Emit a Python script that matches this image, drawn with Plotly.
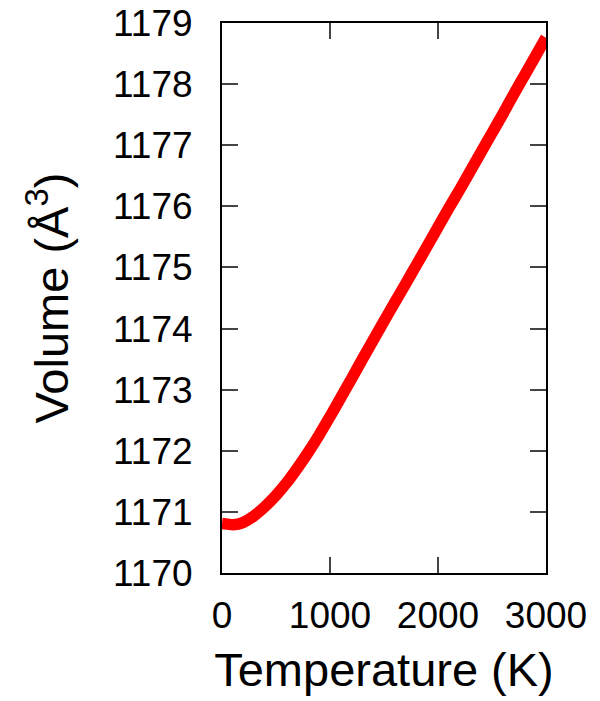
import plotly.graph_objects as go

temperature = [0, 50, 100, 150, 200, 300, 400, 500, 600, 700, 800, 900, 1000,
               1100, 1200, 1300, 1400, 1500, 1600, 1700, 1800, 1900, 2000,
               2100, 2200, 2300, 2400, 2500, 2600, 2700, 2800, 2900, 3000]
volume = [1170.81, 1170.80, 1170.79, 1170.80, 1170.83, 1170.94, 1171.09, 1171.27,
          1171.48, 1171.72, 1171.98, 1172.26, 1172.56, 1172.87, 1173.18, 1173.50,
          1173.81, 1174.12, 1174.43, 1174.73, 1175.04, 1175.35, 1175.66, 1175.97,
          1176.27, 1176.58, 1176.89, 1177.20, 1177.51, 1177.83, 1178.14, 1178.45,
          1178.76]
x_ticks = [0, 1000, 2000, 3000]
y_ticks = [1170, 1171, 1172, 1173, 1174, 1175, 1176, 1177, 1178, 1179]

FONT = "Liberation Sans, Arial, Helvetica, sans-serif"

fig = go.Figure()
fig.add_trace(go.Scatter(
    x=temperature, y=volume, mode="lines",
    line=dict(color="#ff0000", width=11.5, shape="spline"),
    showlegend=False, hoverinfo="skip",
))

fig.update_layout(
    width=600, height=701,
    margin=dict(l=222, r=54, t=23, b=128),
    paper_bgcolor="white", plot_bgcolor="white",
    font=dict(family=FONT, color="black"),
)

axis_common = dict(
    showgrid=False, zeroline=False,
    showline=True, linecolor="black", linewidth=2, mirror="ticks",
    ticks="inside", ticklen=16, tickwidth=1.5, tickcolor="#444444",
    tickfont=dict(family=FONT, size=37, color="black"),
)

fig.update_xaxes(
    range=[0, 3000], tickvals=x_ticks, ticktext=[str(v) for v in x_ticks],
    title=dict(text="Temperature (K)", font=dict(family=FONT, size=47, color="black"), standoff=18),
    ticklabelstandoff=9,
    automargin=False,
    **axis_common,
)
fig.update_yaxes(
    range=[1170, 1179], tickvals=y_ticks, ticktext=[str(v) for v in y_ticks],
    title=dict(text="Volume (Å<sup>3</sup>)", font=dict(family=FONT, size=47, color="black"), standoff=30),
    ticklabelstandoff=20,
    automargin=False,
    **axis_common,
)

fig.write_html("out.html")
